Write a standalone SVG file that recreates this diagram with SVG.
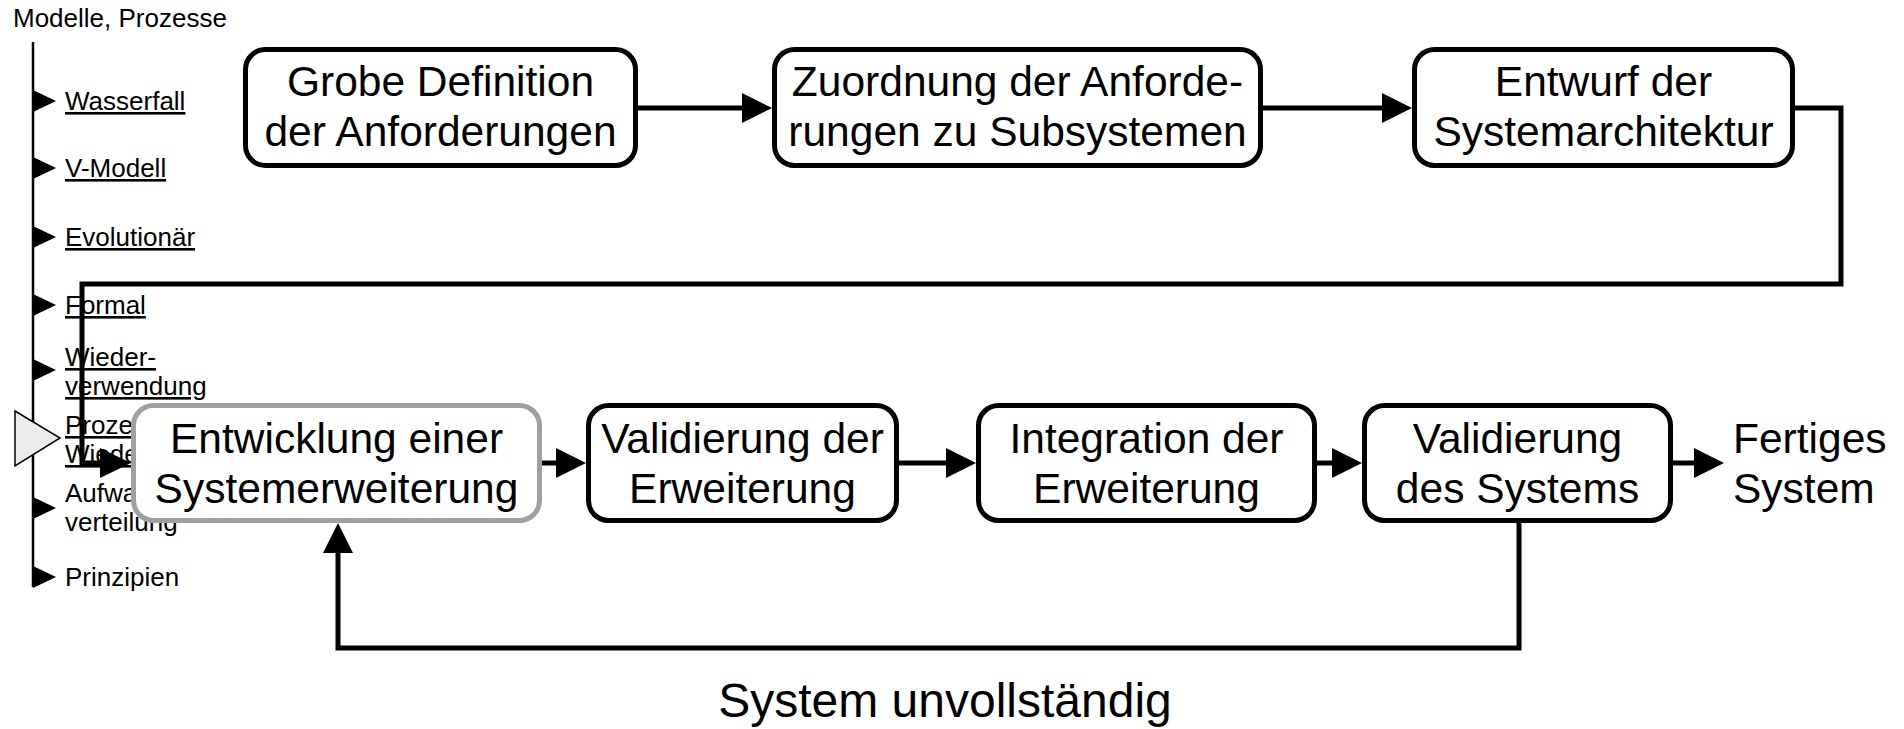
<svg xmlns="http://www.w3.org/2000/svg" width="1904" height="729" viewBox="0 0 1904 729">
<style>
.box{fill:#fff;stroke:#000;stroke-width:5}
.cur{fill:#fff;stroke:#a0a0a0;stroke-width:5}
.bt{font-family:"Liberation Sans",Arial,sans-serif;font-size:42.5px;fill:#000;text-anchor:middle}
.st{font-family:"Liberation Sans",Arial,sans-serif;font-size:26px;fill:#000}
.u{text-decoration:underline}
.ln{fill:none;stroke:#000;stroke-width:5}
.hd{fill:#000}
</style>
<g id="sidebar">
<text class="st" x="13" y="27">Modelle, Prozesse</text>
<line x1="33" y1="42" x2="33" y2="587" stroke="#000" stroke-width="2.5"/>
<polygon class="hd" points="33,90 56,101 33,112"/>
<text class="st u" x="65" y="110">Wasserfall</text>
<polygon class="hd" points="33,157 56,168 33,179"/>
<text class="st u" x="65" y="177">V-Modell</text>
<polygon class="hd" points="33,226 56,237 33,248"/>
<text class="st u" x="65" y="246">Evolutionär</text>
<polygon class="hd" points="33,294 56,305 33,316"/>
<text class="st u" x="65" y="314">Formal</text>
<polygon class="hd" points="33,359 56,370 33,381"/>
<text class="st u" x="65" y="366">Wieder-</text>
<text class="st u" x="65" y="395">verwendung</text>
<polygon points="15,411 60,438 15,466" fill="#ececec" stroke="#000" stroke-width="1.5"/>
<text class="st u" x="65" y="434">Proze</text>
<text class="st u" x="65" y="463">Wiede</text>
<polygon class="hd" points="33,497 56,508 33,519"/>
<text class="st" x="65" y="502">Aufwa</text>
<text class="st" x="65" y="531">verteilung</text>
<polygon class="hd" points="33,566 56,577 33,588"/>
<text class="st" x="65" y="586">Prinzipien</text>
</g>
<g id="connectors">
<line class="ln" x1="638" y1="108" x2="744" y2="108"/>
<polygon class="hd" points="742,93 772,108 742,123"/>
<line class="ln" x1="1263" y1="108" x2="1384" y2="108"/>
<polygon class="hd" points="1382,93 1412,108 1382,123"/>
<polyline class="ln" points="1795,108 1841,108 1841,284 82,284 82,463 103,463"/>
<polygon class="hd" points="100,448 131,463 100,478"/>
<line class="ln" x1="542" y1="463" x2="558" y2="463"/>
<polygon class="hd" points="556,448 586,463 556,478"/>
<line class="ln" x1="899" y1="463" x2="948" y2="463"/>
<polygon class="hd" points="946,448 976,463 946,478"/>
<line class="ln" x1="1317" y1="463" x2="1334" y2="463"/>
<polygon class="hd" points="1332,448 1362,463 1332,478"/>
<line class="ln" x1="1673" y1="463" x2="1696" y2="463"/>
<polygon class="hd" points="1694,448 1724,463 1694,478"/>
<polyline class="ln" points="1519,523 1519,648 338,648 338,551"/>
<polygon class="hd" points="323,553 338,523 353,553"/>
<text class="bt" x="945" y="717" style="font-size:48px">System unvollständig</text>
</g>
<g id="n1">
<rect class="box" x="245.5" y="49.5" width="390" height="116" rx="20"/>
<text class="bt" x="440.5" y="96">Grobe Definition</text>
<text class="bt" x="440.5" y="146">der Anforderungen</text>
</g>
<g id="n2">
<rect class="box" x="774.5" y="49.5" width="486" height="116" rx="20"/>
<text class="bt" x="1017.5" y="96">Zuordnung der Anforde-</text>
<text class="bt" x="1017.5" y="146">rungen zu Subsystemen</text>
</g>
<g id="n3">
<rect class="box" x="1414.5" y="49.5" width="378" height="116" rx="20"/>
<text class="bt" x="1603.5" y="96">Entwurf der</text>
<text class="bt" x="1603.5" y="146">Systemarchitektur</text>
</g>
<g id="n4">
<rect class="cur" x="133.5" y="405.5" width="406" height="115" rx="20"/>
<text class="bt" x="336.5" y="453">Entwicklung einer</text>
<text class="bt" x="336.5" y="503">Systemerweiterung</text>
</g>
<g id="n5">
<rect class="box" x="588.5" y="405.5" width="308" height="115" rx="20"/>
<text class="bt" x="742.5" y="453">Validierung der</text>
<text class="bt" x="742.5" y="503">Erweiterung</text>
</g>
<g id="n6">
<rect class="box" x="978.5" y="405.5" width="336" height="115" rx="20"/>
<text class="bt" x="1146.5" y="453">Integration der</text>
<text class="bt" x="1146.5" y="503">Erweiterung</text>
</g>
<g id="n7">
<rect class="box" x="1364.5" y="405.5" width="306" height="115" rx="20"/>
<text class="bt" x="1517.5" y="453">Validierung</text>
<text class="bt" x="1517.5" y="503">des Systems</text>
</g>
<g id="n8">
<text class="bt" x="1733" y="453" style="text-anchor:start">Fertiges</text>
<text class="bt" x="1733" y="503" style="text-anchor:start">System</text>
</g>
</svg>
